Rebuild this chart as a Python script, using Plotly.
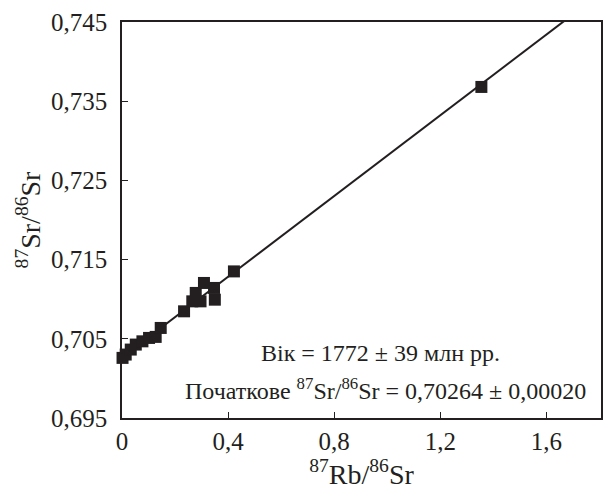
import plotly.graph_objects as go

rb_sr = [0.002, 0.014, 0.033, 0.052, 0.077, 0.102, 0.127, 0.146, 0.234, 0.265, 0.278, 0.296, 0.309, 0.347, 0.350, 0.422, 1.355]
sr_sr = [0.70259, 0.70301, 0.70364, 0.70427, 0.70468, 0.70511, 0.70524, 0.70637, 0.70847, 0.70973, 0.71079, 0.70973, 0.71205, 0.71142, 0.70994, 0.71351, 0.73680]

intercept = 0.70264
slope = 0.02548
line_x = [0.0, 1.671]
line_y = [intercept + slope * v for v in line_x]

x_ticks = [0, 0.4, 0.8, 1.2, 1.6]
x_labels = ["0", "0,4", "0,8", "1,2", "1,6"]
y_ticks = [0.695, 0.705, 0.715, 0.725, 0.735, 0.745]
y_labels = ["0,695", "0,705", "0,715", "0,725", "0,735", "0,745"]

ink = "#231f20"
font = "Liberation Serif"

fig = go.Figure()
fig.add_trace(go.Scatter(x=line_x, y=line_y, mode="lines",
                         line=dict(color=ink, width=2), showlegend=False, cliponaxis=False))
fig.add_trace(go.Scatter(x=rb_sr, y=sr_sr, mode="markers",
                         marker=dict(symbol="square", size=12, color=ink),
                         showlegend=False, cliponaxis=False))

fig.add_annotation(x=0.973, y=0.70326, xref="x", yref="y", xanchor="center", yanchor="middle",
                   text="Вік = 1772 ± 39 млн рр.", showarrow=False,
                   font=dict(family=font, size=24, color=ink))
fig.add_annotation(x=1.757, y=0.6987, xref="x", yref="y", xanchor="right", yanchor="middle",
                   text="Початкове <sup>87</sup>Sr/<sup>86</sup>Sr = 0,70264 ± 0,00020", showarrow=False,
                   font=dict(family=font, size=24, color=ink))

fig.update_layout(
    width=610, height=491,
    margin=dict(l=122, r=7, t=22, b=73),
    paper_bgcolor="white", plot_bgcolor="white",
    font=dict(family=font, size=25, color=ink),
)
fig.update_xaxes(range=[0, 1.806], tickvals=x_ticks, ticktext=x_labels,
                 ticks="inside", ticklen=6, tickcolor=ink, tickwidth=1,
                 showline=True, linecolor=ink, linewidth=1.5, mirror=True,
                 showgrid=False, zeroline=False,
                 title=dict(text="<sup>87</sup>Rb/<sup>86</sup>Sr", standoff=4,
                            font=dict(family=font, size=28, color=ink)),
                 tickfont=dict(family=font, size=25, color=ink))
fig.update_yaxes(range=[0.695, 0.745], tickvals=y_ticks, ticktext=y_labels,
                 ticks="inside", ticklen=6, tickcolor=ink, tickwidth=1,
                 showline=True, linecolor=ink, linewidth=1.5, mirror=True,
                 showgrid=False, zeroline=False, ticklabelstandoff=8,
                 title=dict(text="<sup>87</sup>Sr/<sup>86</sup>Sr", standoff=2,
                            font=dict(family=font, size=28, color=ink)),
                 tickfont=dict(family=font, size=25, color=ink))

fig.write_html("out.html", config={"displayModeBar": False},
               post_script="document.body.style.margin='0px';")
